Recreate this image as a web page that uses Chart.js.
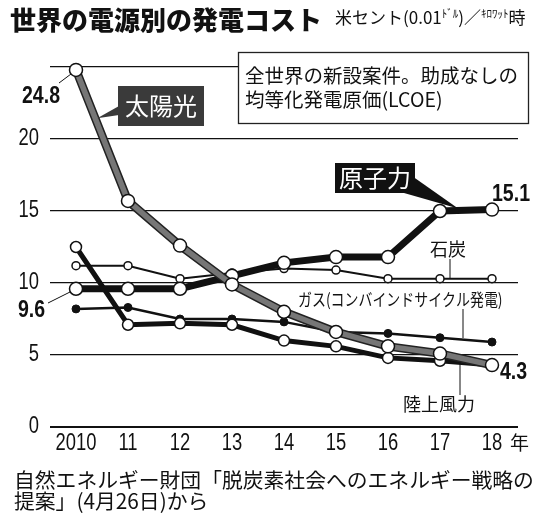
<!DOCTYPE html>
<html>
<head>
<meta charset="utf-8">
<script src="https://cdn.jsdelivr.net/npm/chart.js@4.4.1/dist/chart.umd.min.js"></script>
<style>
  body { margin: 0; background: #fff; }
  canvas { display: block; }
</style>
</head>
<body>
<canvas id="chart" width="539" height="521"></canvas>
<script>
// values (US cents per kWh)
const years = [2010, 2011, 2012, 2013, 2014, 2015, 2016, 2017, 2018];
const yearLabels = ['2010', '11', '12', '13', '14', '15', '16', '17', '18'];
const yTicks = [0, 5, 10, 15, 20];
const solar = [24.8, 15.7, 12.6, 9.9, 8.0, 6.6, 5.6, 5.1, 4.3];
const nuclear = [9.6, 9.6, 9.6, 10.5, 11.4, 11.8, 11.8, 15.0, 15.1];
const coal = [11.2, 11.2, 10.3, 10.7, 11.0, 10.9, 10.3, 10.3, 10.3];
const gas = [8.2, 8.3, 7.5, 7.5, 7.3, 6.6, 6.5, 6.2, 5.9];
const wind = [12.5, 7.1, 7.2, 7.1, 6.0, 5.6, 4.8, 4.6, 4.3];

const JP = '"Noto Sans CJK JP", sans-serif';
const NUM = '"Liberation Sans", Arial, sans-serif';

const pts = arr => years.map((y, i) => ({ x: y, y: arr[i] }));

// text with optional horizontal squeeze (newspaper fonts are condensed)
function txt(ctx, s, x, y, font, align, color, sx) {
  ctx.save();
  ctx.translate(x, y);
  ctx.scale(sx || 1, 1);
  ctx.font = font;
  ctx.textAlign = align || 'left';
  ctx.textBaseline = 'middle';
  ctx.fillStyle = color || '#111';
  ctx.fillText(s, 0, 0);
  ctx.restore();
}

function line(ctx, x1, y1, x2, y2, w) {
  ctx.beginPath();
  ctx.moveTo(x1, y1);
  ctx.lineTo(x2, y2);
  ctx.lineWidth = w || 1;
  ctx.strokeStyle = '#111';
  ctx.stroke();
}

// point on a dataset segment, used for label pointers
function along(chart, ds, i, t) {
  const p = chart.getDatasetMeta(ds).data;
  return { x: p[i].x + (p[i + 1].x - p[i].x) * t, y: p[i].y + (p[i + 1].y - p[i].y) * t };
}

// dark outline under the grey solar line
const solarEdge = {
  id: 'solarEdge',
  beforeDatasetDraw(chart, args) {
    if (args.index !== 0) return;
    const p = args.meta.data;
    const ctx = chart.ctx;
    ctx.save();
    ctx.beginPath();
    p.forEach((pt, i) => i ? ctx.lineTo(pt.x, pt.y) : ctx.moveTo(pt.x, pt.y));
    ctx.lineWidth = 8.5;
    ctx.lineJoin = 'round';
    ctx.strokeStyle = '#222';
    ctx.stroke();
    ctx.restore();
  }
};

// note box over the top grid line + tick labels
const noteBox = {
  id: 'noteBox',
  beforeDatasetsDraw(chart) {
    const ctx = chart.ctx;
    ctx.save();
    ctx.fillStyle = '#fff';
    ctx.fillRect(238, 52, 290, 71);
    ctx.strokeStyle = '#222';
    ctx.lineWidth = 1.3;
    ctx.strokeRect(238.5, 52.5, 290, 71);
    txt(ctx, '全世界の新設案件。助成なしの', 245, 76, `19.5px ${JP}`);
    txt(ctx, '均等化発電原価(LCOE)', 245, 100, `19.5px ${JP}`);

    const xs = chart.scales.x, ys = chart.scales.y;
    years.forEach((v, i) => {
      txt(ctx, yearLabels[i], xs.getPixelForValue(v), 444, `23px ${NUM}`, 'center', '#111', 0.8);
    });
    yTicks.forEach(v => {
      txt(ctx, String(v), 39, ys.getPixelForValue(v), `23px ${NUM}`, 'right', '#111', 0.8);
    });
    ctx.restore();
  }
};

const labels = {
  id: 'labels',
  afterDraw(chart) {
    const ctx = chart.ctx;
    ctx.save();
    // title
    txt(ctx, '世界の電源別の発電コスト', 10, 20, `900 26px ${JP}`);
    let x = 335;
    const part = (s, size, dy) => {
      const font = `${size}px ${JP}`;
      txt(ctx, s, x, 18 + dy, font);
      ctx.font = font;
      x += ctx.measureText(s).width;
    };
    part('米セント(0.01', 17, 0);
    part('ﾄﾞﾙ', 11, -4);
    part(')／', 17, 0);
    part('ｷﾛﾜｯﾄ', 11, -4);
    part('時', 17, 0);

    // solar tag
    const s = along(chart, 0, 0, 0.37);
    ctx.fillStyle = '#3a3a3a';
    ctx.beginPath();
    ctx.moveTo(119, 106); ctx.lineTo(119, 115); ctx.lineTo(s.x + 2, s.y);
    ctx.fill();
    ctx.fillRect(118, 86, 86, 40);
    txt(ctx, '太陽光', 161, 106, `24px ${JP}`, 'center', '#fff');

    // nuclear tag
    const n = along(chart, 1, 7, 0.35);
    ctx.fillStyle = '#111';
    ctx.beginPath();
    ctx.moveTo(412, 176); ctx.lineTo(404, 193); ctx.lineTo(n.x, n.y - 2);
    ctx.fill();
    ctx.fillRect(335, 163, 80, 30);
    txt(ctx, '原子力', 375, 178, `24px ${JP}`, 'center', '#fff');

    // values
    txt(ctx, '24.8', 22, 97, `bold 23px ${NUM}`, 'left', '#111', 0.85);
    line(ctx, 59, 83, 71, 74, 1);
    txt(ctx, '9.6', 18, 311, `bold 23px ${NUM}`, 'left', '#111', 0.85);
    line(ctx, 48, 303, 70, 292, 1);
    txt(ctx, '15.1', 492, 195, `bold 23px ${NUM}`, 'left', '#111', 0.85);
    txt(ctx, '4.3', 500, 373, `bold 23px ${NUM}`, 'left', '#111', 0.85);

    // series names with leader lines
    txt(ctx, '石炭', 430, 249, `18px ${JP}`);
    line(ctx, 450, 259, 450, 278, 1);
    txt(ctx, 'ガス(コンバインドサイクル発電)', 298, 300, `17px ${JP}`, 'left', '#111', 0.82);
    line(ctx, 463, 309, 463, 338, 1);
    txt(ctx, '陸上風力', 403, 404, `18px ${JP}`);
    line(ctx, 460, 362, 460, 395, 1);

    txt(ctx, '年', 510, 443, `19px ${JP}`);

    // source
    txt(ctx, '自然エネルギー財団「脱炭素社会へのエネルギー戦略の', 14, 480, `20.8px ${JP}`);
    txt(ctx, '提案」(4月26日)から', 14, 501, `20.8px ${JP}`);
    ctx.restore();
  }
};

new Chart(document.getElementById('chart'), {
  type: 'line',
  data: {
    datasets: [
      { label: '太陽光', data: pts(solar), borderColor: '#767676', borderWidth: 5.5,
        pointRadius: 6.5, pointBackgroundColor: '#fff', pointBorderColor: '#111', pointBorderWidth: 1.5 },
      { label: '原子力', data: pts(nuclear), borderColor: '#111', borderWidth: 7,
        pointRadius: 6.5, pointBackgroundColor: '#fff', pointBorderColor: '#111', pointBorderWidth: 1.5 },
      { label: '陸上風力', data: pts(wind), borderColor: '#111', borderWidth: 5,
        pointRadius: 5.5, pointBackgroundColor: '#fff', pointBorderColor: '#111', pointBorderWidth: 1.5 },
      { label: 'ガス', data: pts(gas), borderColor: '#111', borderWidth: 2.5,
        pointRadius: 4, pointBackgroundColor: '#111', pointBorderColor: '#111', pointBorderWidth: 1 },
      { label: '石炭', data: pts(coal), borderColor: '#111', borderWidth: 2,
        pointRadius: 4, pointBackgroundColor: '#fff', pointBorderColor: '#111', pointBorderWidth: 1.5 }
    ]
  },
  options: {
    responsive: false,
    animation: false,
    devicePixelRatio: 1,
    layout: { padding: { top: 67, right: 21, bottom: 64, left: 0 } },
    elements: { line: { tension: 0 } },
    datasets: { line: { clip: false } },
    plugins: { legend: { display: false }, tooltip: { enabled: false } },
    scales: {
      x: {
        type: 'linear', min: 2009.5, max: 2018.5,
        afterBuildTicks: sc => { sc.ticks = years.map(v => ({ value: v })); },
        afterFit: sc => { sc.height = 30; },
        grid: { display: false }, border: { display: false },
        ticks: { display: false }
      },
      y: {
        min: 0, max: 25,
        afterBuildTicks: sc => { sc.ticks = [0, 5, 10, 15, 20, 25].map(v => ({ value: v })); },
        afterFit: sc => { sc.width = 50; },
        grid: { color: '#111', lineWidth: c => c.tick && c.tick.value === 0 ? 2 : 1.2, drawTicks: false },
        border: { display: false },
        ticks: { display: false }
      }
    }
  },
  plugins: [solarEdge, noteBox, labels]
});
</script>
</body>
</html>
